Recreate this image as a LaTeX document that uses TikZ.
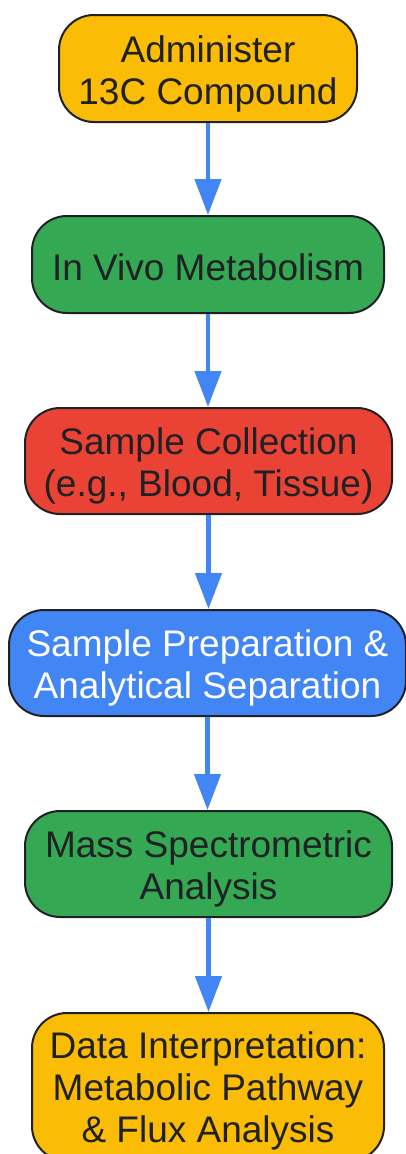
\documentclass[tikz,border=0pt]{standalone}
\usepackage{fontspec}
\setmainfont{Liberation Sans}
\usetikzlibrary{arrows.meta}
\definecolor{cyellow}{HTML}{FBBC05}
\definecolor{cgreen}{HTML}{34A853}
\definecolor{cred}{HTML}{EA4335}
\definecolor{cblue}{HTML}{4285F4}
\definecolor{cdark}{HTML}{202124}
% #1: shift of the first baseline below the node centre, #2: lines
\newcommand\boxlines[2]{\raisebox{-#1}[0pt][0pt]{\begin{tabular}[t]{@{}c@{}}#2\end{tabular}}}
\begin{document}
\begin{tikzpicture}[x=1pt,y=-1pt,
  box/.style={draw=cdark, line width=2pt, rounded corners=35pt, align=center,
    font=\fontsize{37}{42}\selectfont, text=cdark, inner sep=0pt},
  flow/.style={draw=cblue, line width=4.5pt, -{Triangle[width=26pt,length=36pt]}}]
\useasboundingbox (0,0) rectangle (406,1154);
\node[box, fill=cyellow, minimum width=298pt, minimum height=107pt] (n1) at (208,68.5)
  {\boxlines{-6.5pt}{Administer\\13C Compound}};
\node[box, fill=cgreen, minimum width=352pt, minimum height=97pt] (n2) at (208,264.5)
  {\boxlines{15.5pt}{In Vivo Metabolism}};
\node[box, fill=cred, minimum width=367pt, minimum height=106pt] (n3) at (208.5,461)
  {\boxlines{-6.5pt}{Sample Collection\\(e.g., Blood, Tissue)}};
\node[box, fill=cblue, text=white, minimum width=397pt, minimum height=106pt] (n4) at (207.5,663)
  {\boxlines{-6.5pt}{Sample Preparation \&\\Analytical Separation}};
\node[box, fill=cgreen, minimum width=367pt, minimum height=106pt] (n5) at (208.5,864)
  {\boxlines{-6.5pt}{Mass Spectrometric\\Analysis}};
\node[box, fill=cyellow, minimum width=352pt, minimum height=148pt] (n6) at (208,1087)
  {\boxlines{-29pt}{Data Interpretation:\\Metabolic Pathway\\\& Flux Analysis}};
\draw[flow] (n1.south) -- (n1.south |- n2.north);
\draw[flow] (n2.south) -- (n2.south |- n3.north);
\draw[flow] (n3.south) -- (n3.south |- n4.north);
\draw[flow] (n4.south) -- (n4.south |- n5.north);
\draw[flow] (n5.south) -- (n5.south |- n6.north);
\end{tikzpicture}
\end{document}
